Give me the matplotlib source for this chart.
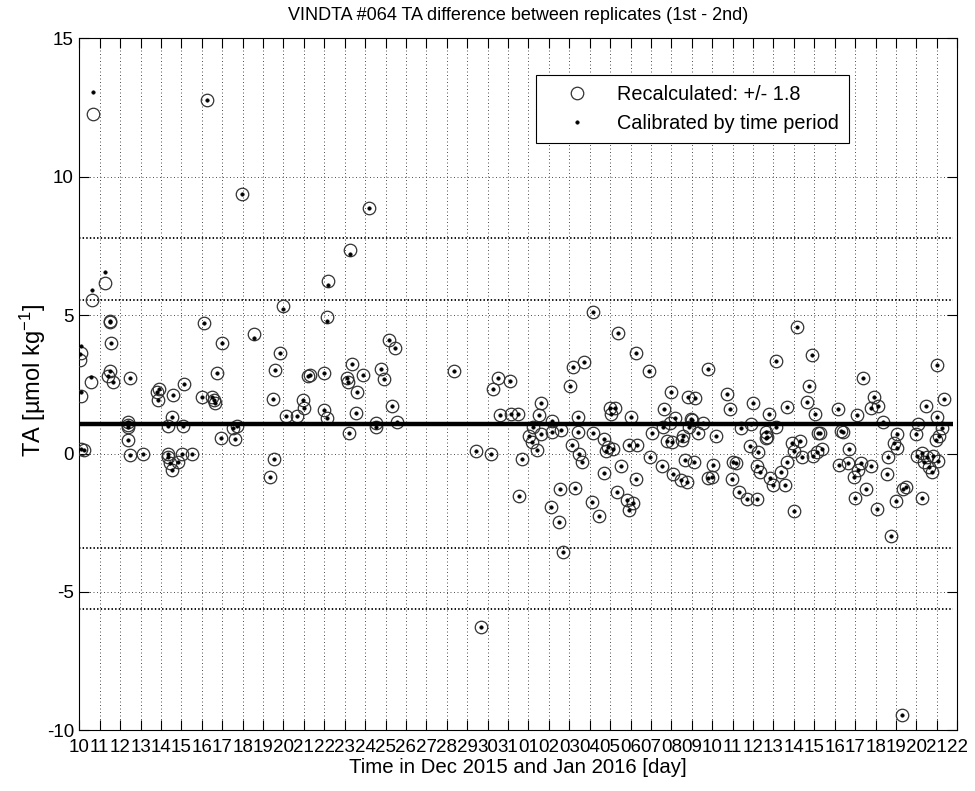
import matplotlib
matplotlib.use("Agg")
import matplotlib.pyplot as plt
import numpy as np

plt.rcParams['font.family'] = ['Liberation Sans', 'DejaVu Sans']
plt.rcParams['axes.unicode_minus'] = False
plt.rcParams['mathtext.fontset'] = 'custom'
plt.rcParams['mathtext.rm'] = 'Liberation Sans'
plt.rcParams['mathtext.it'] = 'Liberation Sans'
plt.rcParams['mathtext.default'] = 'regular'

# ---------------- data ----------------
day = [10.69, 10.62, 11.26, 10.07, 10.05, 10.56, 10.07, 10.07, 10.23, 11.50,
       11.52, 11.55, 11.50, 11.42, 11.64, 12.48, 13.79, 13.90, 13.85, 14.60,
       15.13, 16.11, 17.00, 16.76, 15.99, 16.48, 16.60, 16.65, 18.56, 12.40,
       12.40, 12.40, 12.40, 12.48, 13.13, 14.36, 14.36, 14.44, 14.52, 14.85,
       15.01, 15.50, 14.52, 14.36, 15.06, 16.92, 17.62, 17.54, 17.74, 16.24,
       17.95, 24.20, 23.26, 22.19, 19.99, 22.14, 25.18, 25.45, 19.83, 19.58,
       23.34, 21.30, 21.20, 22.00, 23.09, 23.17, 23.91, 24.76, 24.94, 23.58,
       19.47, 20.94, 21.00, 20.12, 20.68, 21.98, 22.12, 23.55, 25.30, 23.21,
       24.52, 24.52, 25.54, 19.34, 19.53, 28.35, 35.14, 36.40, 37.25, 37.91,
       34.19, 34.73, 30.49, 30.27, 31.09, 34.03, 30.60, 31.13, 31.50, 32.61,
       32.51, 34.44, 33.16, 32.23, 32.04, 32.15, 32.40, 32.61, 33.16, 33.57,
       34.41, 35.14, 34.11, 34.48, 34.60, 35.71, 35.78, 35.91, 36.15, 35.99,
       36.23, 36.04, 37.00, 36.93, 37.33, 36.51, 37.25, 35.70, 36.35, 36.84,
       37.13, 36.92, 35.09, 35.47, 34.28, 33.54, 33.08, 33.49, 33.67, 31.53,
       31.67, 29.43, 30.16, 37.95, 38.52, 38.06, 38.63, 38.98, 39.17, 38.57,
       38.93, 38.77, 39.01, 39.53, 39.58, 39.82, 40.15, 39.94, 39.87, 40.31,
       39.66, 40.12, 39.09, 39.45, 39.75, 29.67, 45.16, 45.90, 44.12, 40.80,
       52.02, 48.36, 45.75, 41.70, 41.87, 43.01, 44.67, 45.62, 46.03, 43.78,
       47.14, 48.07, 48.93, 48.77, 49.10, 51.46, 52.36, 51.99, 49.38, 51.08,
       40.56, 39.99, 42.40, 42.88, 44.12, 41.18, 43.63, 43.69, 43.63, 46.19,
       46.27, 47.29, 47.41, 50.06, 50.98, 51.95, 52.12, 52.25, 42.85, 43.25,
       44.89, 45.29, 45.00, 45.38, 45.95, 46.11, 46.36, 47.71, 49.91, 50.07,
       49.61, 51.02, 51.29, 51.54, 51.83, 52.08, 51.38, 51.62, 51.76, 41.04,
       42.03, 42.14, 43.17, 43.34, 44.64, 44.35, 43.82, 43.99, 44.56, 47.22,
       47.66, 48.27, 48.15, 47.95, 48.80, 49.55, 40.80, 40.97, 41.95, 42.32,
       42.71, 43.17, 45.00, 47.99, 48.55, 49.06, 50.02, 50.34, 50.47, 51.29,
       49.77, 50.28]

ta_recalc = [12.25, 5.55, 6.15, 3.62, 3.38, 2.60, 2.09, 0.16, 0.12, 4.80,
             4.75, 4.00, 2.98, 2.80, 2.60, 2.74, 2.23, 2.32, 1.93, 2.11,
             2.51, 4.70, 4.00, 2.92, 2.05, 2.05, 1.93, 1.81, 4.30, 1.15,
             1.03, 0.97, 0.49, -0.05, -0.03, -0.02, -0.11, -0.35, -0.60, -0.30,
             0.00, -0.02, 1.33, 1.00, 0.99, 0.55, 0.51, 0.91, 0.99, 12.77,
             9.37, 8.86, 7.35, 6.24, 5.33, 4.92, 4.10, 3.82, 3.62, 3.02,
             3.23, 2.84, 2.80, 2.90, 2.72, 2.60, 2.84, 3.04, 2.68, 2.23,
             1.96, 1.93, 1.63, 1.35, 1.35, 1.57, 1.29, 1.47, 1.72, 0.75,
             1.09, 0.97, 1.15, -0.85, -0.20, 2.99, 5.12, 4.34, 3.64, 2.99,
             3.11, 3.29, 2.72, 2.33, 2.62, 2.44, 1.39, 1.42, 1.42, 1.84,
             1.39, 1.33, 1.17, 0.97, 0.63, 0.43, 0.13, 0.69, 0.77, 0.85,
             0.77, 0.73, 0.31, -0.02, -0.30, 0.51, 0.10, 0.25, 0.16, 1.63,
             1.63, 1.42, 1.33, 0.31, 0.31, -0.45, -0.93, -0.72, -1.38, -1.68,
             -1.78, -2.04, -1.74, -2.25, -1.23, -1.29, -1.92, -2.46, -3.55, -1.54,
             -0.21, 0.09, 0.00, -0.11, -0.45, 0.75, 1.60, 2.23, 1.29, 0.97,
             1.09, 0.45, 0.40, 0.49, 0.63, 2.05, 1.99, 1.24, 0.97, 0.73,
             -0.23, -0.30, -0.74, -0.96, -1.02, -6.25, 4.58, 3.56, 3.34, 3.05,
             3.20, 2.72, 2.45, 2.14, 1.61, 1.81, 1.69, 1.87, 1.42, 1.43,
             1.61, 1.39, 2.03, 1.65, 1.72, 1.72, 1.96, 1.33, 1.13, 1.07,
             1.11, 1.21, 0.91, 1.07, 0.97, 0.64, 0.79, 0.61, 0.55, 0.73,
             0.73, 0.82, 0.79, 0.70, 0.69, 0.49, 0.64, 0.91, 0.28, 0.04,
             0.37, 0.45, 0.10, -0.11, -0.09, 0.07, 0.15, 0.16, 0.37, 0.19,
             -0.11, -0.09, 0.03, -0.11, -0.08, -0.27, -0.30, -0.48, -0.66, -0.42,
             -0.30, -0.33, -0.45, -0.68, -0.30, -0.66, -0.90, -1.14, -1.14, -0.42,
             -0.35, -0.35, -0.60, -0.84, -0.44, -0.74, -0.90, -0.84, -0.93, -1.40,
             -1.64, -1.64, -2.08, -1.60, -1.29, -2.02, -1.72, -1.29, -1.20, -1.62,
             -2.97, -9.45]

ta_calib = [13.05, 5.90, 6.55, 3.90, 3.60, 2.78, 2.23, 0.16, 0.12, 4.80,
            4.75, 4.00, 2.98, 2.80, 2.60, 2.74, 2.23, 2.32, 1.93, 2.11,
            2.51, 4.70, 4.00, 2.92, 2.05, 2.05, 1.93, 1.81, 4.16, 1.15,
            1.03, 0.97, 0.49, -0.05, -0.03, -0.02, -0.11, -0.35, -0.60, -0.30,
            0.00, -0.02, 1.33, 1.00, 0.99, 0.55, 0.51, 0.91, 0.99, 12.77,
            9.37, 8.86, 7.20, 6.09, 5.21, 4.80, 4.10, 3.82, 3.62, 3.02,
            3.23, 2.84, 2.80, 2.90, 2.72, 2.60, 2.84, 3.04, 2.68, 2.23,
            1.96, 1.93, 1.63, 1.35, 1.35, 1.57, 1.29, 1.47, 1.72, 0.75,
            1.09, 0.97, 1.15, -0.85, -0.20, 2.99, 5.12, 4.34, 3.64, 2.99,
            3.11, 3.29, 2.72, 2.33, 2.62, 2.44, 1.39, 1.42, 1.42, 1.84,
            1.39, 1.33, 1.17, 0.97, 0.63, 0.43, 0.13, 0.69, 0.77, 0.85,
            0.77, 0.73, 0.31, -0.02, -0.30, 0.51, 0.10, 0.25, 0.16, 1.63,
            1.63, 1.42, 1.33, 0.31, 0.31, -0.45, -0.93, -0.72, -1.38, -1.68,
            -1.78, -2.04, -1.74, -2.25, -1.23, -1.29, -1.92, -2.46, -3.55, -1.54,
            -0.21, 0.09, 0.00, -0.11, -0.45, 0.75, 1.60, 2.23, 1.29, 0.97,
            1.09, 0.45, 0.40, 0.49, 0.63, 2.05, 1.99, 1.24, 0.97, 0.73,
            -0.23, -0.30, -0.74, -0.96, -1.02, -6.25, 4.58, 3.56, 3.34, 3.05,
            3.20, 2.72, 2.45, 2.14, 1.61, 1.81, 1.69, 1.87, 1.42, 1.43,
            1.61, 1.39, 2.03, 1.65, 1.72, 1.72, 1.96, 1.33, 1.13, 1.07,
            1.11, 1.21, 0.91, 1.07, 0.97, 0.64, 0.79, 0.61, 0.55, 0.73,
            0.73, 0.82, 0.79, 0.70, 0.69, 0.49, 0.64, 0.91, 0.28, 0.04,
            0.37, 0.45, 0.10, -0.11, -0.09, 0.07, 0.15, 0.16, 0.37, 0.19,
            -0.11, -0.09, 0.03, -0.11, -0.08, -0.27, -0.30, -0.48, -0.66, -0.42,
            -0.30, -0.33, -0.45, -0.68, -0.30, -0.66, -0.90, -1.14, -1.14, -0.42,
            -0.35, -0.35, -0.60, -0.84, -0.44, -0.74, -0.90, -0.84, -0.93, -1.40,
            -1.64, -1.64, -2.08, -1.60, -1.29, -2.02, -1.72, -1.29, -1.20, -1.62,
            -2.97, -9.45]

mean_value = 1.05
limit_lines = [7.8, 5.55, -3.42, -5.62]
line_span = [10.0, 52.8]

tick_days = list(range(10, 54))
tick_labels = ['10', '11', '12', '13', '14', '15', '16', '17', '18', '19', '20',
               '21', '22', '23', '24', '25', '26', '27', '28', '29', '30', '31',
               '01', '02', '03', '04', '05', '06', '07', '08', '09', '10', '11',
               '12', '13', '14', '15', '16', '17', '18', '19', '20', '21', '22']
y_ticks = [-10, -5, 0, 5, 10, 15]

# ---------------- figure ----------------
fig = plt.figure(figsize=(9.75, 7.91), dpi=100)
ax = fig.add_axes([0.0813, 0.0767, 0.9005, 0.8749])

ax.set_xlim(10, 53)
ax.set_ylim(-10, 15)
ax.set_xticks(tick_days)
ax.set_xticklabels(tick_labels)
ax.set_yticks(y_ticks)

ax.grid(True, color='0.3', linewidth=0.7, linestyle=(0, (1, 2.6)))
ax.set_axisbelow(True)

for yv in limit_lines:
    ax.plot(line_span, [yv, yv], color='k', linewidth=1.3,
            linestyle=(0, (0.8, 1.2)), zorder=2)
ax.plot(line_span, [mean_value, mean_value], color='k', linewidth=3.2,
        solid_capstyle='butt', zorder=4)

ax.plot(day, ta_recalc, linestyle='none', marker='o', markersize=9,
        markerfacecolor='none', markeredgecolor='#333333', markeredgewidth=0.9,
        label='Recalculated: +/- 1.8', zorder=3)
ax.plot(day, ta_calib, linestyle='none', marker='o', markersize=2.6,
        markerfacecolor='k', markeredgecolor='k', markeredgewidth=0.3,
        label='Calibrated by time period', zorder=5)

ax.tick_params(axis='both', direction='in', length=7, width=0.8,
               top=True, right=True, labelsize=13.5, colors='k')
ax.tick_params(axis='x', pad=6)
ax.tick_params(axis='y', pad=3.8)
for s in ax.spines.values():
    s.set_linewidth(0.8)
    s.set_color('k')

ax.set_title('VINDTA #064 TA difference between replicates (1st - 2nd)',
             fontsize=13, pad=13)
ax.set_xlabel('Time in Dec 2015 and Jan 2016 [day]', fontsize=14.7, labelpad=2)
ax.set_ylabel('TA [\u00b5mol kg$^{-1}$]', fontsize=17)
ax.yaxis.set_label_coords(-0.036, 0.506)

leg = ax.legend(loc='upper left', bbox_to_anchor=(0.5202, 0.947), fontsize=14.3,
                frameon=True, fancybox=False, shadow=False, framealpha=1,
                edgecolor='k', handlelength=3.12, handletextpad=0.46,
                borderpad=0.5, labelspacing=0.5, borderaxespad=0)
leg.get_frame().set_linewidth(0.8)

fig.savefig('out.png', dpi=100)
